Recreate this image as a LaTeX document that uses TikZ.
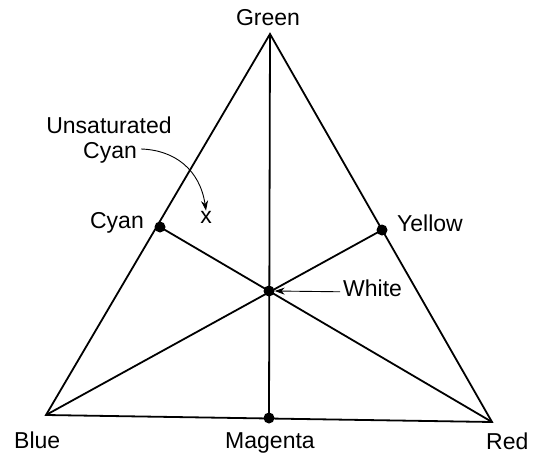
\documentclass[tikz,border=0pt]{standalone}
\usepackage{fontspec}
\setmainfont{Liberation Sans}
\usetikzlibrary{arrows.meta}
\begin{document}
\begin{tikzpicture}[x=1pt,y=-1pt,
  edge/.style={line width=1.8pt,line join=miter},
  dot/.style={circle,fill=black,inner sep=0pt,minimum size=11pt},
  lbl/.style={font=\fontsize{23}{25}\selectfont,inner sep=0pt},
  pointer/.style={line width=0.9pt,-{Stealth[length=10pt,width=7pt]}}]
\useasboundingbox (0,0) rectangle (549,455);
% vertices
\coordinate (G) at (270,34);
\coordinate (B) at (46,415);
\coordinate (R) at (492,422);
% midpoints and centre
\node[dot] (C) at (160,227) {};
\node[dot] (Y) at (382,230) {};
\node[dot] (M) at (269,418) {};
\node[dot] (W) at (269,291) {};
% triangle
\draw[edge] (G) -- (B) -- (R) -- cycle;
% medians
\draw[edge] (G) -- (M.center);
\draw[edge] (C.center) -- (R);
\draw[edge] (Y.center) -- (B);
% labels
\node[lbl,anchor=base] (tG) at (268,25) {Green};
\node[lbl,anchor=base east] (tC) at (144,228) {Cyan};
\node[lbl,anchor=base west] (tY) at (397,231) {Yellow};
\node[lbl,anchor=base west] (tW) at (343,296) {White};
\node[lbl,anchor=base west] (tB) at (14,448) {Blue};
\node[lbl,anchor=base] (tM) at (270,448) {Magenta};
\node[lbl,anchor=base west] (tR) at (486,449) {Red};
\node[lbl,anchor=base,align=center] (tU) at (109,133) {Unsaturated};
\node[lbl,anchor=base] (tU2) at (110,158) {Cyan};
\node[lbl,anchor=base] (tx) at (206,223) {x};
% pointers
\draw[pointer] (tW.west) ++(-3pt,-4pt) coordinate (wS) -- (W.east);
\coordinate (uS) at (141,149);
\draw[pointer] (uS) .. controls (175,150) and (200,170) .. (tx.north);
\end{tikzpicture}
\end{document}
